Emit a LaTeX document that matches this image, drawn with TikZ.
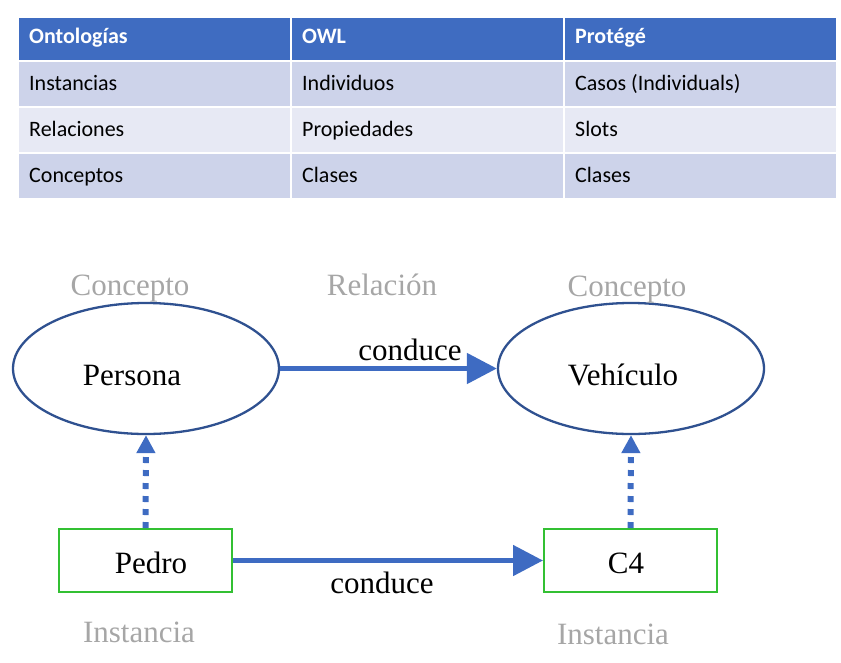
\documentclass[tikz,border=0pt]{standalone}
\usepackage{fontspec}
\setmainfont{Liberation Serif}
\newfontfamily\tabfont{Carlito}
\usetikzlibrary{shapes.geometric,arrows.meta}
\definecolor{hdrblue}{HTML}{3F6CC1}
\definecolor{rowdark}{HTML}{CDD3EA}
\definecolor{rowlight}{HTML}{E7E9F4}
\definecolor{arrblue}{HTML}{3E6BC2}
\definecolor{ellblue}{HTML}{2F5190}
\definecolor{boxgreen}{HTML}{33C033}
\definecolor{labgray}{HTML}{A6A6A6}
\tikzset{
  cellbox/.style={draw=white,line width=2pt,rectangle,minimum width=273pt,minimum height=46pt,inner sep=0pt,anchor=north west},
  celltext/.style={anchor=base west,inner sep=0pt,font=\tabfont\fontsize{22}{26}\selectfont},
  hdrtext/.style={celltext,text=white,font=\tabfont\bfseries\fontsize{22}{26}\selectfont},
  concept/.style={ellipse,draw=ellblue,line width=2.3pt,minimum width=266pt,minimum height=131pt,inner sep=0pt},
  instbox/.style={rectangle,draw=boxgreen,line width=2pt,minimum width=173pt,minimum height=63pt,inner sep=0pt},
  bigtext/.style={inner sep=0pt,anchor=base,font=\fontsize{31}{37}\selectfont},
  graytext/.style={bigtext,text=labgray},
  conn/.style={draw=arrblue,line width=5pt,-{Triangle[length=30pt,width=30pt]}},
  dotconn/.style={draw=arrblue,line width=6pt,dash pattern=on 6pt off 7pt,-{Triangle[length=18pt,width=18pt]}}
}
\begin{document}
\begin{tikzpicture}[x=1pt,y=-1pt]
\useasboundingbox (0,0) rectangle (841,662);
% table cells
\node[cellbox,fill=hdrblue,minimum height=44pt] (h1) at (17,16) {};
\node[cellbox,fill=hdrblue,minimum height=44pt] (h2) at (290,16) {};
\node[cellbox,fill=hdrblue,minimum height=44pt] (h3) at (563,16) {};
\node[cellbox,fill=rowdark] (a1) at (17,60) {};
\node[cellbox,fill=rowdark] (a2) at (290,60) {};
\node[cellbox,fill=rowdark] (a3) at (563,60) {};
\node[cellbox,fill=rowlight] (b1) at (17,106) {};
\node[cellbox,fill=rowlight] (b2) at (290,106) {};
\node[cellbox,fill=rowlight] (b3) at (563,106) {};
\node[cellbox,fill=rowdark] (c1) at (17,152) {};
\node[cellbox,fill=rowdark] (c2) at (290,152) {};
\node[cellbox,fill=rowdark] (c3) at (563,152) {};
% table text
\node[hdrtext] (th1) at (29,43.5) {Ontologías};
\node[hdrtext] (th2) at (302,43.5) {OWL};
\node[hdrtext] (th3) at (575,43.5) {Protégé};
\node[celltext] (ta1) at (29,90) {Instancias};
\node[celltext] (ta2) at (302,90) {Individuos};
\node[celltext] (ta3) at (575,90) {Casos (Individuals)};
\node[celltext] (tb1) at (29,136.5) {Relaciones};
\node[celltext] (tb2) at (302,136.5) {Propiedades};
\node[celltext] (tb3) at (575,136.5) {Slots};
\node[celltext] (tc1) at (29,182.5) {Conceptos};
\node[celltext] (tc2) at (302,182.5) {Clases};
\node[celltext] (tc3) at (575,182.5) {Clases};
% diagram
\node[concept] (persona) at (146,368.5) {};
\node[concept] (vehiculo) at (631,368.5) {};
\node[bigtext] (personaT) at (132,385) {Persona};
\node[bigtext] (vehiculoT) at (623,385) {Vehículo};
\node[instbox] (pedro) at (145.5,560.5) {};
\node[instbox] (c4) at (630.5,560.5) {};
\node[bigtext] (pedroT) at (151,573) {Pedro};
\node[bigtext] (c4T) at (626,573) {C4};
\node[graytext] (lc1) at (130,295) {Concepto};
\node[graytext] (lrel) at (382,295) {Relación};
\node[graytext] (lc2) at (627,296) {Concepto};
\node[graytext] (li1) at (139,642) {Instancia};
\node[graytext] (li2) at (613,644) {Instancia};
\node[bigtext] (cond1) at (410,360) {conduce};
\node[bigtext] (cond2) at (382,593) {conduce};
\draw[conn] (persona.east) -- (vehiculo.west);
\draw[conn] (pedro.east) -- (c4.west);
\draw[dotconn] (pedro.north) -- (persona.south);
\draw[dotconn] (c4.north) -- (vehiculo.south);
\end{tikzpicture}
\end{document}
